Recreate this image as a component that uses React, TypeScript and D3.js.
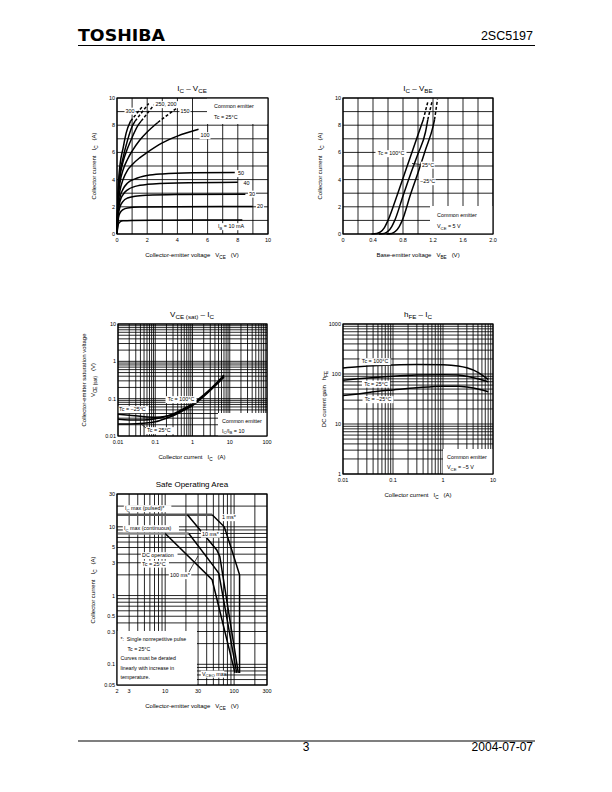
import React from 'react';
import * as d3 from 'd3';

type Pt = [number, number];
type Part = string | { s: string };

const FONT = "'Liberation Sans', Arial, Helvetica, sans-serif";

// ---------------- Chart 1: IC - VCE ----------------
const c1XTicks = [0, 2, 4, 6, 8, 10];
const c1YTicks = [0, 2, 4, 6, 8, 10];
const ib10: Pt[] = [[0, 0], [0.05, 0.5], [0.1, 0.75], [0.2, 0.9], [0.4, 0.97], [1, 1.0], [3, 1.02], [8.3, 1.03]];
const ib20: Pt[] = [[0, 0], [0.05, 0.8], [0.1, 1.2], [0.2, 1.55], [0.4, 1.8], [0.7, 1.92], [1.5, 1.98], [4, 2.0], [9, 2.02]];
const ib30: Pt[] = [[0, 0], [0.05, 1.0], [0.1, 1.5], [0.2, 2.0], [0.4, 2.4], [0.7, 2.65], [1.2, 2.78], [2, 2.85], [4, 2.9], [8.5, 2.93]];
const ib40: Pt[] = [[0, 0], [0.05, 1.2], [0.1, 1.8], [0.2, 2.4], [0.4, 2.9], [0.7, 3.25], [1.2, 3.5], [2, 3.65], [4, 3.75], [8, 3.8]];
const ib50: Pt[] = [[0, 0], [0.05, 1.4], [0.1, 2.0], [0.2, 2.7], [0.4, 3.3], [0.7, 3.75], [1.2, 4.05], [2, 4.3], [3, 4.42], [5, 4.5], [7.8, 4.52]];
const ib100: Pt[] = [[0, 0], [0.05, 1.6], [0.1, 2.4], [0.2, 3.2], [0.4, 4.0], [0.7, 4.7], [1, 5.1], [1.5, 5.6], [2, 6.0], [3, 6.7], [4, 7.2], [5.4, 7.7]];
const ib150: Pt[] = [[0, 0], [0.05, 1.8], [0.1, 2.8], [0.2, 3.8], [0.4, 4.7], [0.7, 5.5], [1, 6.1], [1.5, 6.9], [2, 7.5], [2.7, 8.2]];
const ib200: Pt[] = [[0, 0], [0.05, 2.0], [0.1, 3.1], [0.2, 4.2], [0.4, 5.3], [0.7, 6.3], [1, 7.1], [1.4, 8.0], [1.6, 8.3]];
const ib250: Pt[] = [[0, 0], [0.05, 2.2], [0.1, 3.4], [0.2, 4.5], [0.4, 5.6], [0.7, 6.9], [1, 7.9], [1.2, 8.3]];
const ib300: Pt[] = [[0, 0], [0.05, 2.4], [0.1, 3.8], [0.2, 5.1], [0.4, 6.3], [0.6, 7.4], [0.9, 8.3]];
const ib150Dash: Pt[] = [[2.7, 8.2], [4.0, 9.3]];
const ib200Dash: Pt[] = [[1.6, 8.3], [2.6, 9.7]];
const ib250Dash: Pt[] = [[1.2, 8.3], [2.1, 9.6]];
const ib300Dash: Pt[] = [[0.9, 8.3], [1.7, 9.4]];

// ---------------- Chart 2: IC - VBE ----------------
const c2XTicks = [0, 0.4, 0.8, 1.2, 1.6, 2.0];
const c2XLabels = ['0', '0.4', '0.8', '1.2', '1.6', '2.0'];
const c2YTicks = [0, 2, 4, 6, 8, 10];
const vbe100: Pt[] = [[0.38, 0], [0.45, 0.04], [0.5, 0.15], [0.55, 0.45], [0.6, 1.0], [0.7, 2.5], [0.8, 4.1], [0.9, 5.7], [1.0, 7.3], [1.07, 8.4]];
const vbe25: Pt[] = [[0.48, 0], [0.55, 0.04], [0.6, 0.2], [0.65, 0.55], [0.69, 1.0], [0.8, 2.8], [0.9, 4.4], [1.0, 5.9], [1.1, 7.5], [1.13, 8.4]];
const vbeM25: Pt[] = [[0.58, 0], [0.65, 0.04], [0.7, 0.2], [0.75, 0.55], [0.79, 1.0], [0.9, 2.9], [1.0, 4.5], [1.1, 6.2], [1.2, 7.9], [1.22, 8.4]];
const vbe100Dash: Pt[] = [[1.07, 8.4], [1.13, 9.7]];
const vbe25Dash: Pt[] = [[1.13, 8.4], [1.19, 9.8]];
const vbeM25Dash: Pt[] = [[1.22, 8.4], [1.26, 9.9]];

// ---------------- Chart 3: VCE(sat) - IC ----------------
const c3XTicks = [0.01, 0.1, 1, 10, 100];
const c3XLabels = ['0.01', '0.1', '1', '10', '100'];
const c3YTicks = [0.01, 0.1, 1, 10];
const c3YLabels = ['0.01', '0.1', '1', '10'];
const vsatM25: Pt[] = [[0.01, 0.038], [0.02, 0.036], [0.05, 0.033], [0.1, 0.032], [0.2, 0.034], [0.3, 0.037], [0.5, 0.047], [1, 0.068], [2, 0.12], [3, 0.17], [5, 0.28], [7, 0.4]];
const vsat100: Pt[] = [[0.01, 0.028], [0.02, 0.027], [0.05, 0.027], [0.1, 0.029], [0.2, 0.034], [0.3, 0.039], [0.5, 0.05], [1, 0.073], [2, 0.126], [3, 0.18], [5, 0.3], [7, 0.43]];
const vsat25: Pt[] = [[0.01, 0.021], [0.02, 0.021], [0.05, 0.022], [0.1, 0.024], [0.2, 0.03], [0.3, 0.035], [0.5, 0.045], [1, 0.065], [2, 0.114], [3, 0.165], [5, 0.27], [7, 0.38]];

// ---------------- Chart 4: hFE - IC ----------------
const c4XTicks = [0.01, 0.1, 1, 10];
const c4XLabels = ['0.01', '0.1', '1', '10'];
const c4YTicks = [1, 10, 100, 1000];
const c4YLabels = ['1', '10', '100', '1000'];
const hfe100: Pt[] = [[0.01, 132], [0.02, 140], [0.05, 148], [0.1, 152], [0.3, 155], [1, 153], [2, 145], [3, 133], [5, 108], [8, 78]];
const hfe25: Pt[] = [[0.01, 75], [0.02, 80], [0.05, 86], [0.1, 90], [0.3, 95], [1, 97], [2, 95], [3, 90], [5, 80], [8, 70]];
const hfeM25: Pt[] = [[0.01, 37], [0.02, 40], [0.05, 45], [0.1, 48], [0.3, 53], [1, 57], [2, 57], [3, 55], [5, 50], [8, 44]];

// ---------------- Chart 5: Safe Operating Area ----------------
const c5XTicks = [2, 3, 10, 30, 100, 300];
const c5XLabels = ['2', '3', '10', '30', '100', '300'];
const c5YTicks = [0.05, 0.1, 0.3, 0.5, 1, 3, 5, 10, 30];
const c5YLabels = ['0.05', '0.1', '0.3', '0.5', '1', '3', '5', '10', '30'];
const soaPulsed: Pt[] = [[2, 15], [48, 15]];
const soaCont: Pt[] = [[2, 8], [22, 8]];
const soa1ms: Pt[] = [[48, 15], [72, 10], [85, 6], [120, 2], [120, 0.075]];
const soa10ms: Pt[] = [[21, 15], [56, 4.6], [62, 3.7], [115, 0.075]];
const soa100ms: Pt[] = [[22, 8], [50, 2.7], [60, 2.1], [109, 0.075]];
const soaDC: Pt[] = [[10, 8], [48, 1.7], [103, 0.075]];

// ---------------- helpers ----------------
function RT({ x, y, parts, size = 6, anchor = 'start', rot = false, weight = 'normal' }:
  { x: number; y: number; parts: Part[]; size?: number; anchor?: string; rot?: boolean; weight?: string }) {
  const sh = size * 0.3;
  let cur = 0;
  const kids = parts.map((p, i) => {
    const sub = typeof p !== 'string';
    const t = sub ? sh : 0;
    const dy = t - cur;
    cur = t;
    return (
      <tspan key={i} dy={dy} fontSize={sub ? size * 0.78 : size}>
        {sub ? (p as { s: string }).s : (p as string)}
      </tspan>
    );
  });
  return (
    <text x={x} y={y} fontSize={size} fontFamily={FONT} textAnchor={anchor as any} fontWeight={weight}
      style={{ whiteSpace: 'pre' }} transform={rot ? `rotate(-90 ${x} ${y})` : undefined}>
      {kids}
    </text>
  );
}

function Lab({ x, y, parts, size = 5.4, anchor = 'middle', pad = 1.2 }:
  { x: number; y: number; parts: Part[]; size?: number; anchor?: string; pad?: number }) {
  const n = parts.reduce((a, p) => a + (typeof p === 'string' ? p.length : p.s.length * 0.78), 0);
  const w = n * size * 0.53;
  const left = anchor === 'middle' ? x - w / 2 : anchor === 'end' ? x - w : x;
  return (
    <g>
      <rect x={left - pad} y={y - size * 0.9} width={w + 2 * pad} height={size * 1.3} fill="#fff" />
      <RT x={x} y={y} parts={parts} size={size} anchor={anchor} />
    </g>
  );
}

function Grid({ x, y, gx, gy, w = 0.85 }: { x: any; y: any; gx: number[]; gy: number[]; w?: number }) {
  const [xa, xb] = x.range();
  const [ya, yb] = y.range();
  return (
    <g stroke="#000" strokeWidth={w}>
      {gx.map((v, i) => <line key={'gx' + i} x1={x(v)} x2={x(v)} y1={ya} y2={yb} />)}
      {gy.map((v, i) => <line key={'gy' + i} x1={xa} x2={xb} y1={y(v)} y2={y(v)} />)}
    </g>
  );
}

function Frame({ x, y, xt, xl, yt, yl, size = 5.5 }:
  { x: any; y: any; xt: number[]; xl: string[]; yt: number[]; yl: string[]; size?: number }) {
  const [xa, xb] = x.range();
  const [ya, yb] = y.range();
  return (
    <g>
      <rect x={xa} y={yb} width={xb - xa} height={ya - yb} fill="none" stroke="#000" strokeWidth={1.2} />
      {xt.map((v, i) => (
        <text key={'xt' + i} x={x(v)} y={ya + 8} fontSize={size} fontFamily={FONT} textAnchor="middle">{xl[i]}</text>
      ))}
      {yt.map((v, i) => (
        <text key={'yt' + i} x={xa - 2} y={y(v) + 2} fontSize={size} fontFamily={FONT} textAnchor="end">{yl[i]}</text>
      ))}
    </g>
  );
}

export default function App() {
  // scales
  const x1 = d3.scaleLinear().domain([0, 10]).range([117, 268]);
  const y1 = d3.scaleLinear().domain([0, 10]).range([234, 98]);
  const x2 = d3.scaleLinear().domain([0, 2]).range([343, 493]);
  const y2 = d3.scaleLinear().domain([0, 10]).range([234, 98]);
  const x3 = d3.scaleLog().domain([0.01, 100]).range([118, 267]);
  const y3 = d3.scaleLog().domain([0.01, 10]).range([436, 324]);
  const x4 = d3.scaleLog().domain([0.01, 10]).range([343, 493]);
  const y4 = d3.scaleLog().domain([1, 1000]).range([474, 324]);
  const x5 = d3.scaleLog().domain([2, 300]).range([117, 267]);
  const y5 = d3.scaleLog().domain([0.05, 30]).range([685, 494]);

  const mk = (x: any, y: any, c: any = d3.curveMonotoneX) =>
    d3.line<Pt>().x(d => x(d[0])).y(d => y(d[1])).curve(c);
  const l1 = mk(x1, y1);
  const l1s = mk(x1, y1, d3.curveLinear);
  const l2 = mk(x2, y2);
  const l2s = mk(x2, y2, d3.curveLinear);
  const l3 = mk(x3, y3);
  const l4 = mk(x4, y4);
  const l5 = mk(x5, y5, d3.curveLinear);

  const cs = { fill: 'none', stroke: '#000', strokeWidth: 1.5 } as const;
  const ds = { fill: 'none', stroke: '#000', strokeWidth: 1.5, strokeDasharray: '3 2' } as const;

  const c1Curves = [ib10, ib20, ib30, ib40, ib50, ib100, ib150, ib200, ib250, ib300];
  const c1Dash = [ib150Dash, ib200Dash, ib250Dash, ib300Dash];

  return (
    <svg width={612} height={792} style={{ position: 'absolute', left: 0, top: 0, display: 'block' }}>
      <rect x={0} y={0} width={612} height={792} fill="#fff" />

      {/* Header */}
      <text x={78} y={41} fontFamily="'DejaVu Sans', sans-serif" fontWeight="bold" fontSize={15}
        textLength={87} lengthAdjust="spacingAndGlyphs">TOSHIBA</text>
      <text x={533} y={40} fontFamily={FONT} fontSize={12.5} textAnchor="end">2SC5197</text>
      <line x1={78} x2={535} y1={45.5} y2={45.5} stroke="#000" strokeWidth={1.2} />

      {/* Footer */}
      <line x1={78} x2={535} y1={741} y2={741} stroke="#000" strokeWidth={1.2} />
      <text x={306} y={751} fontFamily={FONT} fontSize={12} textAnchor="middle">3</text>
      <text x={533} y={751} fontFamily={FONT} fontSize={12} textAnchor="end">2004-07-07</text>

      {/* ============ Chart 1 ============ */}
      <RT x={192} y={91} parts={['I', { s: 'C' }, ' – V', { s: 'CE' }]} size={8} anchor="middle" />
      <Grid x={x1} y={y1} gx={x1.ticks(10)} gy={y1.ticks(10)} />
      <rect x={207} y={98} width={61} height={26} fill="#fff" />
      {c1Curves.map((c, i) => <path key={'c1' + i} d={l1(c) || ''} {...cs} />)}
      {c1Dash.map((c, i) => <path key={'c1d' + i} d={l1s(c) || ''} {...ds} />)}
      <RT x={214} y={108} parts={['Common emitter']} size={5.4} />
      <RT x={214} y={119} parts={['Tc = 25°C']} size={5.4} />
      <Lab x={130} y={112.5} parts={['300']} />
      <Lab x={166} y={106} parts={['250, 200']} />
      <Lab x={185} y={112.5} parts={['150']} />
      <Lab x={205} y={137} parts={['100']} />
      <Lab x={241} y={175} parts={['50']} />
      <Lab x={246.5} y={185} parts={['40']} />
      <Lab x={252} y={195.5} parts={['30']} />
      <Lab x={260} y={208} parts={['20']} />
      <Lab x={231} y={228} parts={['I', { s: 'B' }, ' = 10 mA']} />
      <Frame x={x1} y={y1} xt={c1XTicks} xl={c1XTicks.map(String)} yt={c1YTicks} yl={c1YTicks.map(String)} />
      <RT x={192} y={257} parts={['Collector-emitter voltage   V', { s: 'CE' }, '   (V)']} size={6} anchor="middle" />
      <RT x={96} y={166} parts={['Collector current   I', { s: 'C' }, '   (A)']} size={6} anchor="middle" rot />

      {/* ============ Chart 2 ============ */}
      <RT x={418} y={91} parts={['I', { s: 'C' }, ' – V', { s: 'BE' }]} size={8} anchor="middle" />
      <Grid x={x2} y={y2} gx={x2.ticks(10)} gy={y2.ticks(10)} />
      <rect x={430} y={206} width={63} height={28} fill="#fff" />
      {[vbe100, vbe25, vbeM25].map((c, i) => <path key={'c2' + i} d={l2(c) || ''} {...cs} />)}
      {[vbe100Dash, vbe25Dash, vbeM25Dash].map((c, i) => <path key={'c2d' + i} d={l2s(c) || ''} {...ds} />)}
      <Lab x={391} y={155} parts={['Tc = 100°C']} />
      <line x1={412} x2={421} y1={163.5} y2={164.5} stroke="#000" strokeWidth={0.8} />
      <Lab x={422} y={166.5} parts={['25°C']} anchor="start" />
      <Lab x={420} y={183} parts={['−25°C']} anchor="start" />
      <RT x={437} y={217} parts={['Common emitter']} size={5.4} />
      <RT x={437} y={228} parts={['V', { s: 'CE' }, ' = 5 V']} size={5.4} />
      <Frame x={x2} y={y2} xt={c2XTicks} xl={c2XLabels} yt={c2YTicks} yl={c2YTicks.map(String)} />
      <RT x={418} y={257} parts={['Base-emitter voltage   V', { s: 'BE' }, '   (V)']} size={6} anchor="middle" />
      <RT x={322} y={166} parts={['Collector current   I', { s: 'C' }, '   (A)']} size={6} anchor="middle" rot />

      {/* ============ Chart 3 ============ */}
      <RT x={192} y={317} parts={['V', { s: 'CE (sat)' }, ' – I', { s: 'C' }]} size={8} anchor="middle" />
      <Grid x={x3} y={y3} gx={x3.ticks()} gy={y3.ticks()} />
      <rect x={218} y={413} width={49} height={23} fill="#fff" />
      {[vsatM25, vsat100, vsat25].map((c, i) => <path key={'c3' + i} d={l3(c) || ''} {...cs} />)}
      <Lab x={181} y={401} parts={['Tc = 100°C']} />
      <Lab x={119} y={411} parts={['Tc = −25°C']} anchor="start" />
      <line x1={140} x2={146} y1={423} y2={428} stroke="#000" strokeWidth={0.8} />
      <Lab x={147} y={432} parts={['Tc = 25°C']} anchor="start" />
      <RT x={222} y={423} parts={['Common emitter']} size={5.4} />
      <RT x={222} y={432.5} parts={['I', { s: 'C' }, '/I', { s: 'B' }, ' = 10']} size={5.4} />
      <Frame x={x3} y={y3} xt={c3XTicks} xl={c3XLabels} yt={c3YTicks} yl={c3YLabels} />
      <RT x={192} y={459} parts={['Collector current   I', { s: 'C' }, '   (A)']} size={6} anchor="middle" />
      <RT x={86} y={380} parts={['Collector-emitter saturation voltage']} size={6} anchor="middle" rot />
      <RT x={95} y={380} parts={['V', { s: 'CE (sat)' }, '   (V)']} size={6} anchor="middle" rot />

      {/* ============ Chart 4 ============ */}
      <RT x={418} y={317} parts={['h', { s: 'FE' }, ' – I', { s: 'C' }]} size={8} anchor="middle" />
      <Grid x={x4} y={y4} gx={x4.ticks()} gy={y4.ticks()} />
      <rect x={443} y={449} width={50} height={25} fill="#fff" />
      {[hfe100, hfe25, hfeM25].map((c, i) => <path key={'c4' + i} d={l4(c) || ''} {...cs} />)}
      <Lab x={375} y={363} parts={['Tc = 100°C']} />
      <Lab x={376} y={385.5} parts={['Tc = 25°C']} />
      <Lab x={378} y={401} parts={['Tc = −25°C']} />
      <RT x={447} y={459} parts={['Common emitter']} size={5.4} />
      <RT x={447} y={469} parts={['V', { s: 'CE' }, ' = −5 V']} size={5.4} />
      <Frame x={x4} y={y4} xt={c4XTicks} xl={c4XLabels} yt={c4YTicks} yl={c4YLabels} />
      <RT x={418} y={497} parts={['Collector current   I', { s: 'C' }, '   (A)']} size={6} anchor="middle" />
      <RT x={326} y={399} parts={['DC current gain   h', { s: 'FE' }]} size={6} anchor="middle" rot />

      {/* ============ Chart 5: SOA ============ */}
      <text x={192} y={487} fontFamily={FONT} fontSize={8} textAnchor="middle">Safe Operating Area</text>
      <Grid x={x5} y={y5} gx={x5.ticks()} gy={y5.ticks()} />
      <rect x={117} y={631} width={80} height={54} fill="#fff" />
      <path d={l5(soaPulsed) || ''} fill="none" stroke="#555" strokeWidth={2.6} />
      <path d={l5(soaCont) || ''} fill="none" stroke="#888" strokeWidth={2.6} />
      {[soa1ms, soa10ms, soa100ms, soaDC].map((c, i) => <path key={'c5' + i} d={l5(c) || ''} {...cs} />)}
      <Lab x={125} y={510} parts={['I', { s: 'C' }, ' max (pulsed)*']} anchor="start" />
      <Lab x={222} y={519} parts={['1 ms*']} anchor="start" />
      <Lab x={124} y={530} parts={['I', { s: 'C' }, ' max (continuous)']} anchor="start" />
      <Lab x={202} y={535.5} parts={['10 ms*']} anchor="start" />
      <Lab x={142} y={557} parts={['DC operation']} anchor="start" />
      <Lab x={142} y={565.5} parts={['Tc = 25°C']} anchor="start" />
      <Lab x={170} y={577} parts={['100 ms*']} anchor="start" />
      <line x1={189} x2={198} y1={572} y2={556} stroke="#000" strokeWidth={0.7} />
      <RT x={120.5} y={641} parts={['*:  Single nonrepetitive pulse']} size={5.2} />
      <RT x={127.5} y={650.5} parts={['Tc = 25°C']} size={5.2} />
      <RT x={120.5} y={660} parts={['Curves must be derated']} size={5.2} />
      <RT x={120.5} y={669.5} parts={['linearly with increase in']} size={5.2} />
      <RT x={120.5} y={679} parts={['temperature.']} size={5.2} />
      <Lab x={202} y={675.5} parts={['V', { s: 'CEO' }, ' max']} anchor="start" />
      <Frame x={x5} y={y5} xt={c5XTicks} xl={c5XLabels} yt={c5YTicks} yl={c5YLabels} />
      <RT x={192} y={708} parts={['Collector-emitter voltage   V', { s: 'CE' }, '   (V)']} size={6} anchor="middle" />
      <RT x={95} y={590} parts={['Collector current   I', { s: 'C' }, '   (A)']} size={6} anchor="middle" rot />
    </svg>
  );
}
